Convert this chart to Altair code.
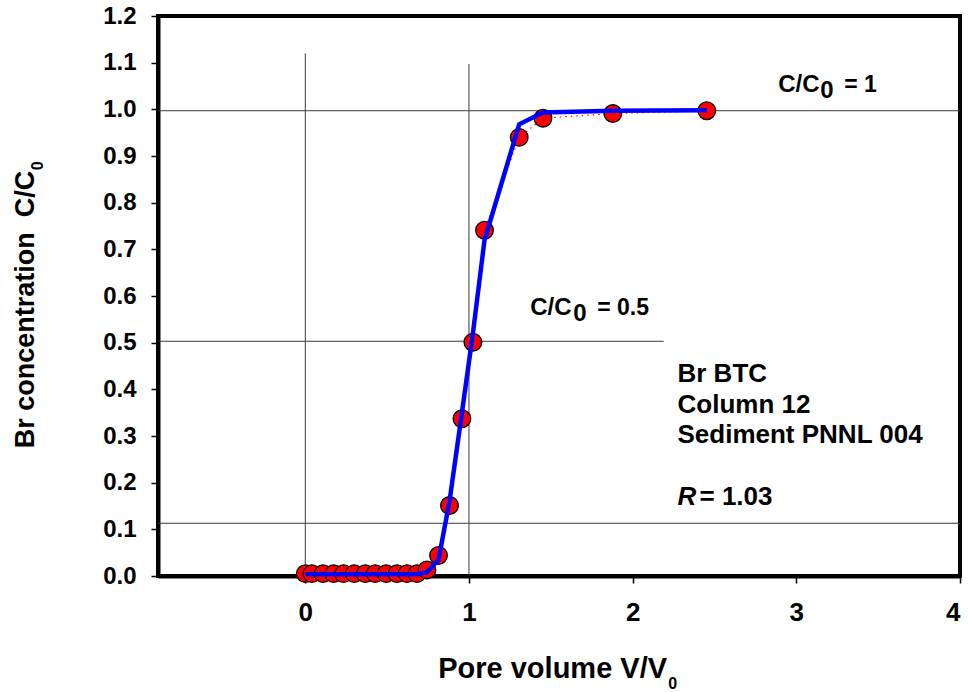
import altair as alt
import pandas as pd

# ---------------- data ----------------
pore_volume = [0.000, 0.040, 0.108, 0.173, 0.234, 0.299, 0.366, 0.427, 0.494, 0.560, 0.621,
               0.682, 0.743, 0.814, 0.881, 0.957, 1.024, 1.095, 1.307, 1.452, 1.879, 2.453]
c_observed = [0.005, 0.005, 0.005, 0.005, 0.005, 0.005, 0.005, 0.005, 0.005, 0.005, 0.005,
              0.005, 0.013, 0.044, 0.151, 0.337, 0.501, 0.741, 0.940, 0.981, 0.991, 0.997]
c_fitted = [0.004, 0.004, 0.004, 0.004, 0.004, 0.004, 0.004, 0.004, 0.004, 0.004, 0.004,
            0.004, 0.008, 0.035, 0.160, 0.350, 0.520, 0.720, 0.968, 0.993, 0.997, 0.998]

# guide lines drawn in the plot
guide_x1 = [0.0, 1.0, -0.9, -0.9, -0.9]
guide_x2 = [0.0, 1.0, 4.0, 2.19, 4.0]
guide_y1 = [0.0, 0.0, 0.997, 0.503, 0.113]
guide_y2 = [1.12, 1.097, 0.997, 0.503, 0.113]

x_ticks = [0, 1, 2, 3, 4]
y_ticks = [0.0, 0.1, 0.2, 0.3, 0.4, 0.5, 0.6, 0.7, 0.8, 0.9, 1.0, 1.1, 1.2]

info_lines = ["Br BTC", "Column 12", "Sediment PNNL 004"]
info_y = [0.4157, 0.3485, 0.2842]

FONT = "Liberation Sans"

obs = pd.DataFrame({"x": pore_volume, "y": c_observed})
fit = pd.DataFrame({"x": pore_volume, "y": c_fitted})
guides = pd.DataFrame({"x": guide_x1, "x2": guide_x2, "y": guide_y1, "y2": guide_y2})

xscale = alt.Scale(domain=[-0.9, 4], nice=False, zero=False)
yscale = alt.Scale(domain=[0, 1.2], nice=False, zero=False)

xaxis = alt.Axis(values=x_ticks, format="d", grid=False, title="",
                 labelFont=FONT, labelFontSize=26, labelFontWeight="bold", labelColor="black",
                 labelPadding=16, tickSize=7, tickColor="black", tickWidth=1.5,
                 domainColor="black", domainWidth=4)
yaxis = alt.Axis(values=y_ticks, format=".1f", grid=False, title="",
                 labelFont=FONT, labelFontSize=24, labelFontWeight="bold", labelColor="black",
                 labelPadding=15, tickSize=7, tickColor="black", tickWidth=1.5,
                 domainColor="black", domainWidth=4)


def X(field="x"):
    return alt.X(f"{field}:Q", scale=xscale, axis=xaxis, title="")


def Y(field="y"):
    return alt.Y(f"{field}:Q", scale=yscale, axis=yaxis, title="")


guide_layer = alt.Chart(guides).mark_rule(color="#3a3a3a", strokeWidth=1).encode(
    x=X(), x2="x2:Q", y=Y(), y2="y2:Q")

dotted = alt.Chart(obs).mark_line(color="red", strokeWidth=1.2, strokeDash=[1.5, 4]).encode(
    x=X(), y=Y())

points = alt.Chart(obs).mark_point(shape="circle", filled=True, size=310, fill="#FF0000",
                                   stroke="black", strokeWidth=1.3, opacity=1).encode(
    x=X(), y=Y())

fit_line = alt.Chart(fit).mark_line(color="#0000FF", strokeWidth=4.5).encode(x=X(), y=Y())


def txt(text, xv, yv, size, dx=0, style="normal", angle=0):
    d = pd.DataFrame({"x": [xv], "y": [yv], "t": [text]})
    return alt.Chart(d).mark_text(align="left", baseline="alphabetic", font=FONT,
                                  fontSize=size, fontWeight="bold", fontStyle=style,
                                  color="black", dx=dx, angle=angle).encode(
        x=X(), y=Y(), text="t:N")


annotations = [
    txt("C/C", 2.889, 1.037, 24),
    txt("0", 2.889, 1.025, 24, dx=42),
    txt("= 1", 2.889, 1.037, 23, dx=66),
    txt("C/C", 1.374, 0.5587, 24),
    txt("0", 1.374, 0.5467, 24, dx=43),
    txt("= 0.5", 1.374, 0.5587, 23, dx=67),
    txt("R", 2.274, 0.1512, 26, style="italic"),
    txt("= 1.03", 2.274, 0.1512, 26, dx=22),
    # axis titles (with lowered subscripts)
    txt("Pore volume V/V", 0.812, -0.2177, 29),
    txt("0", 0.812, -0.2413, 16, dx=230),
    txt("Br concentration\u00a0 C/C", -1.659, 0.2735, 27, angle=270),
    txt("0", -1.600, 0.8697, 16, angle=270),
]

info_df = pd.DataFrame({"x": [2.274] * len(info_lines), "y": info_y, "t": info_lines})
info = alt.Chart(info_df).mark_text(align="left", baseline="alphabetic", font=FONT, fontSize=26,
                                    fontWeight="bold", color="black").encode(
    x=X(), y=Y(), text="t:N")

chart = alt.layer(guide_layer, dotted, points, fit_line, info, *annotations).properties(
    width=802, height=560,
    autosize=alt.AutoSizeParams(type="none"),
    padding={"left": 158, "top": 16, "right": 9, "bottom": 116},
    background="white",
).configure_view(stroke="black", strokeWidth=4)

chart.save("out.html", embed_options={"renderer": "svg", "actions": False})
